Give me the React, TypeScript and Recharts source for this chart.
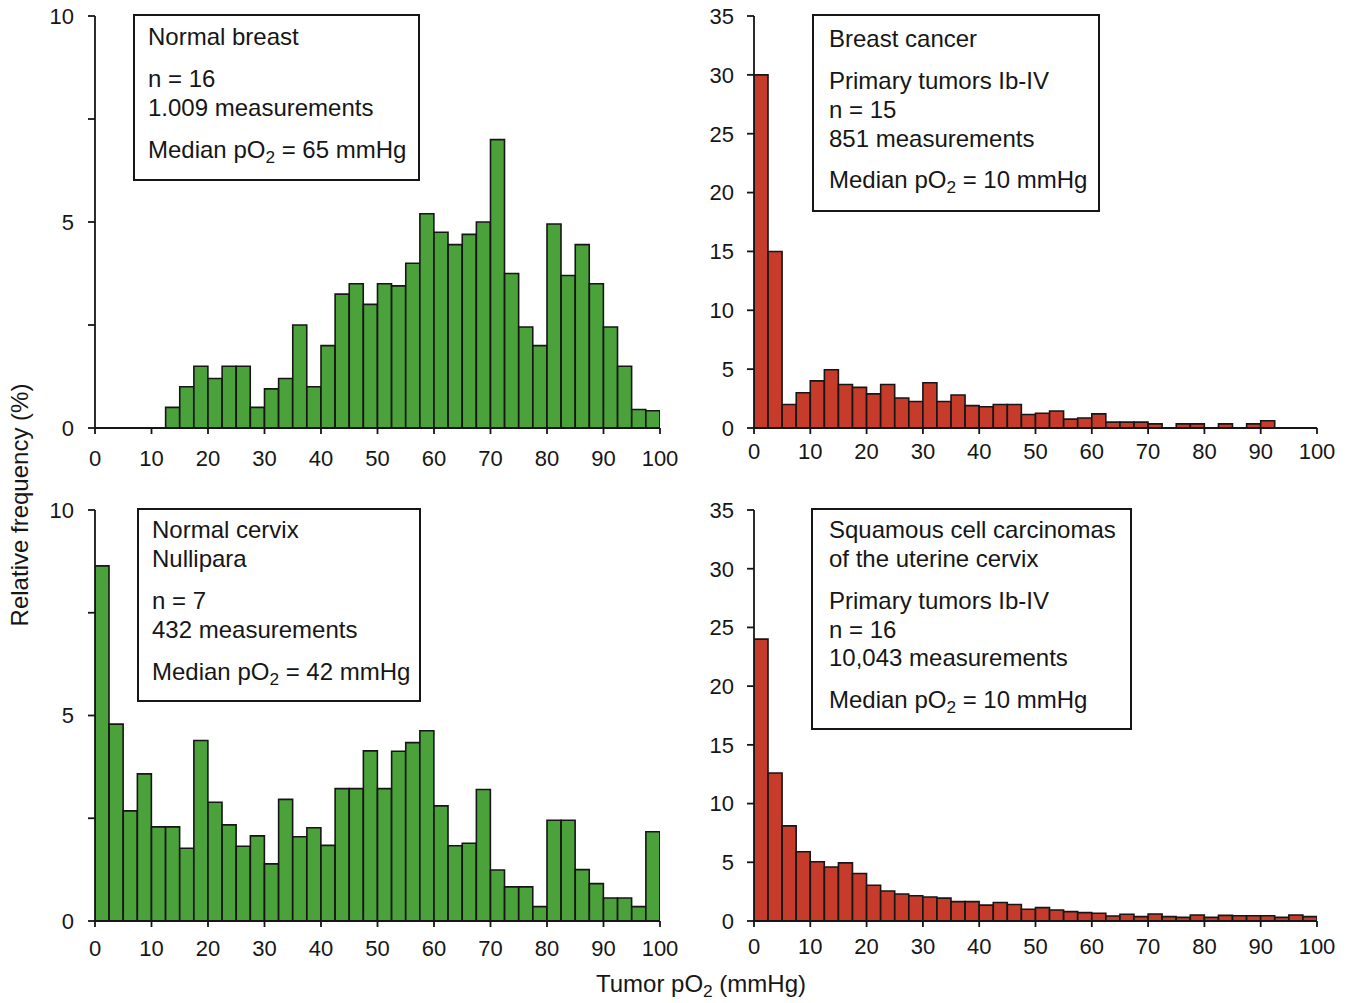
import React from "react";
import { Bar, BarChart, XAxis, YAxis } from "recharts";

const FONT = '"Liberation Sans", Arial, Helvetica, sans-serif';
const GREEN = "#4ca23a";
const RED = "#c73b2b";
const INK = "#161616";

// 2.5 mmHg bins, 0-100
const binStarts = Array.from({ length: 40 }, (_, i) => i * 2.5);
const xTicks = [0, 10, 20, 30, 40, 50, 60, 70, 80, 90, 100];
const leftYTicks = [0, 2.5, 5, 7.5, 10];
const rightYTicks = [0, 5, 10, 15, 20, 25, 30, 35];

const normalBreast = [
  0, 0, 0, 0, 0, 0.5, 1.0, 1.5, 1.2, 1.5, 1.5, 0.5, 0.95, 1.2, 2.5, 1.0, 2.0, 3.25, 3.5, 3.0,
  3.5, 3.45, 4.0, 5.2, 4.75, 4.45, 4.7, 5.0, 7.0, 3.75, 2.45, 2.0, 4.95, 3.7, 4.45, 3.5, 2.45, 1.5, 0.45, 0.42,
];
const breastCancer = [
  30, 15, 2.0, 3.0, 4.0, 4.95, 3.7, 3.45, 2.9, 3.7, 2.55, 2.25, 3.85, 2.25, 2.8, 1.9, 1.8, 2.0, 2.0, 1.15,
  1.25, 1.45, 0.75, 0.85, 1.2, 0.5, 0.5, 0.5, 0.35, 0, 0.35, 0.35, 0, 0.35, 0, 0.35, 0.62, 0, 0, 0,
];
const normalCervix = [
  8.64, 4.79, 2.68, 3.58, 2.29, 2.29, 1.77, 4.39, 2.89, 2.34, 1.82, 2.07, 1.39, 2.96, 2.05, 2.27, 1.84, 3.22, 3.22, 4.14,
  3.22, 4.13, 4.34, 4.63, 2.8, 1.83, 1.89, 3.2, 1.24, 0.83, 0.83, 0.35, 2.45, 2.45, 1.25, 0.91, 0.56, 0.56, 0.35, 2.17,
];
const cervixCarcinoma = [
  24, 12.6, 8.1, 5.9, 5.05, 4.6, 4.95, 4.05, 3.05, 2.55, 2.3, 2.15, 2.05, 1.95, 1.65, 1.65, 1.35, 1.57, 1.4, 1.0,
  1.14, 0.94, 0.8, 0.71, 0.66, 0.43, 0.57, 0.37, 0.6, 0.37, 0.31, 0.51, 0.31, 0.48, 0.45, 0.45, 0.45, 0.31, 0.51, 0.37,
];

const toRows = (values: number[]) =>
  binStarts.map((start, i) => ({ mid: start + 1.25, value: values[i] }));

type PanelProps = {
  left: number;
  top: number;
  width: number;
  height: number;
  values: number[];
  color: string;
  yMax: number;
  yTicks: number[];
  yAxisWidth: number;
  margin: { top: number; right: number; left: number; bottom: number };
  xTickMargin: number;
  yTickMargin: number;
  labelEvery5?: boolean;
};

function Histogram(p: PanelProps) {
  const axisStyle = { stroke: INK, strokeWidth: 1.8 };
  const tickStyle = { fill: INK, fontSize: 22, fontFamily: FONT };
  return (
    <div style={{ position: "absolute", left: p.left, top: p.top }}>
      <BarChart
        width={p.width}
        height={p.height}
        data={toRows(p.values)}
        margin={p.margin}
        barCategoryGap={0}
        barGap={0}
      >
        <XAxis
          dataKey="mid"
          type="number"
          domain={[0, 100]}
          ticks={xTicks}
          interval={0}
          allowDataOverflow
          height={40}
          tickSize={6}
          tickMargin={p.xTickMargin}
          axisLine={axisStyle}
          tickLine={axisStyle}
          tick={tickStyle}
        />
        <YAxis
          type="number"
          domain={[0, p.yMax]}
          ticks={p.yTicks}
          interval={0}
          allowDataOverflow
          width={p.yAxisWidth}
          tickSize={7}
          tickMargin={p.yTickMargin}
          axisLine={axisStyle}
          tickLine={axisStyle}
          tick={tickStyle}
          tickFormatter={(v: number) => (p.labelEvery5 && v % 5 !== 0 ? "" : String(v))}
        />
        <Bar dataKey="value" fill={p.color} stroke={INK} strokeWidth={1.6} isAnimationActive={false} />
      </BarChart>
    </div>
  );
}

type Note = {
  left: number;
  top: number;
  width: number;
  height: number;
  textLeft: number;
  lines: { text: string; y: number }[];
};

const notes: Note[] = [
  {
    left: 133, top: 14, width: 287, height: 167, textLeft: 148,
    lines: [
      { text: "Normal breast", y: 37 },
      { text: "n = 16", y: 79 },
      { text: "1.009 measurements", y: 108 },
      { text: "Median pO2 = 65 mmHg", y: 150 },
    ],
  },
  {
    left: 812, top: 14, width: 288, height: 198, textLeft: 829,
    lines: [
      { text: "Breast cancer", y: 39 },
      { text: "Primary tumors Ib-IV", y: 81 },
      { text: "n = 15", y: 110 },
      { text: "851 measurements", y: 139 },
      { text: "Median pO2 = 10 mmHg", y: 180 },
    ],
  },
  {
    left: 137, top: 508, width: 284, height: 194, textLeft: 152,
    lines: [
      { text: "Normal cervix", y: 530 },
      { text: "Nullipara", y: 559 },
      { text: "n = 7", y: 601 },
      { text: "432 measurements", y: 630 },
      { text: "Median pO2 = 42 mmHg", y: 672 },
    ],
  },
  {
    left: 811, top: 508, width: 321, height: 222, textLeft: 829,
    lines: [
      { text: "Squamous cell carcinomas", y: 530 },
      { text: "of the uterine cervix", y: 559 },
      { text: "Primary tumors Ib-IV", y: 601 },
      { text: "n = 16", y: 630 },
      { text: "10,043 measurements", y: 658 },
      { text: "Median pO2 = 10 mmHg", y: 700 },
    ],
  },
];

function withSub(text: string) {
  const parts = text.split("pO2");
  if (parts.length === 1) return text;
  return (
    <>
      {parts[0]}pO
      <span style={{ fontSize: "0.72em", position: "relative", top: "0.3em" }}>2</span>
      {parts[1]}
    </>
  );
}

function NoteBox({ n }: { n: Note }) {
  return (
    <div
      style={{
        position: "absolute",
        left: n.left,
        top: n.top,
        width: n.width,
        height: n.height,
        boxSizing: "border-box",
        border: `2px solid ${INK}`,
        background: "#fff",
      }}
    >
      {n.lines.map((l) => (
        <div
          key={l.text}
          style={{
            position: "absolute",
            left: n.textLeft - n.left - 2,
            top: l.y - n.top - 2 - 15,
            height: 30,
            lineHeight: "30px",
            fontSize: 24,
            whiteSpace: "nowrap",
            color: INK,
          }}
        >
          {withSub(l.text)}
        </div>
      ))}
    </div>
  );
}

export default function App() {
  return (
    <div
      style={{
        position: "absolute",
        left: 0,
        top: 0,
        width: 1351,
        height: 1003,
        background: "#fff",
        fontFamily: FONT,
        color: INK,
        overflow: "hidden",
      }}
    >
      <Histogram
        left={0} top={0} width={680} height={480}
        values={normalBreast} color={GREEN} yMax={10} yTicks={leftYTicks} labelEvery5
        yAxisWidth={95} margin={{ top: 16, right: 20, left: 0, bottom: 12 }}
        xTickMargin={16} yTickMargin={14}
      />
      <Histogram
        left={680} top={0} width={660} height={480}
        values={breastCancer} color={RED} yMax={35} yTicks={rightYTicks}
        yAxisWidth={74} margin={{ top: 16, right: 23, left: 0, bottom: 12 }}
        xTickMargin={9} yTickMargin={13}
      />
      <Histogram
        left={0} top={494} width={680} height={467}
        values={normalCervix} color={GREEN} yMax={10} yTicks={leftYTicks} labelEvery5
        yAxisWidth={95} margin={{ top: 16, right: 20, left: 0, bottom: 0 }}
        xTickMargin={13} yTickMargin={14}
      />
      <Histogram
        left={680} top={494} width={660} height={467}
        values={cervixCarcinoma} color={RED} yMax={35} yTicks={rightYTicks}
        yAxisWidth={74} margin={{ top: 16, right: 23, left: 0, bottom: 0 }}
        xTickMargin={11} yTickMargin={13}
      />
      {notes.map((n) => (
        <NoteBox key={n.lines[0].text + n.top} n={n} />
      ))}
      <div
        style={{
          position: "absolute",
          left: 20 - 160,
          top: 505 - 15,
          width: 320,
          height: 30,
          lineHeight: "30px",
          fontSize: 24,
          textAlign: "center",
          transform: "rotate(-90deg)",
          whiteSpace: "nowrap",
        }}
      >
        Relative frequency (%)
      </div>
      <div
        style={{
          position: "absolute",
          left: 701 - 160,
          top: 984 - 15,
          width: 320,
          height: 30,
          lineHeight: "30px",
          fontSize: 24,
          textAlign: "center",
          whiteSpace: "nowrap",
        }}
      >
        Tumor pO<span style={{ fontSize: "0.72em", position: "relative", top: "0.3em" }}>2</span> (mmHg)
      </div>
    </div>
  );
}
